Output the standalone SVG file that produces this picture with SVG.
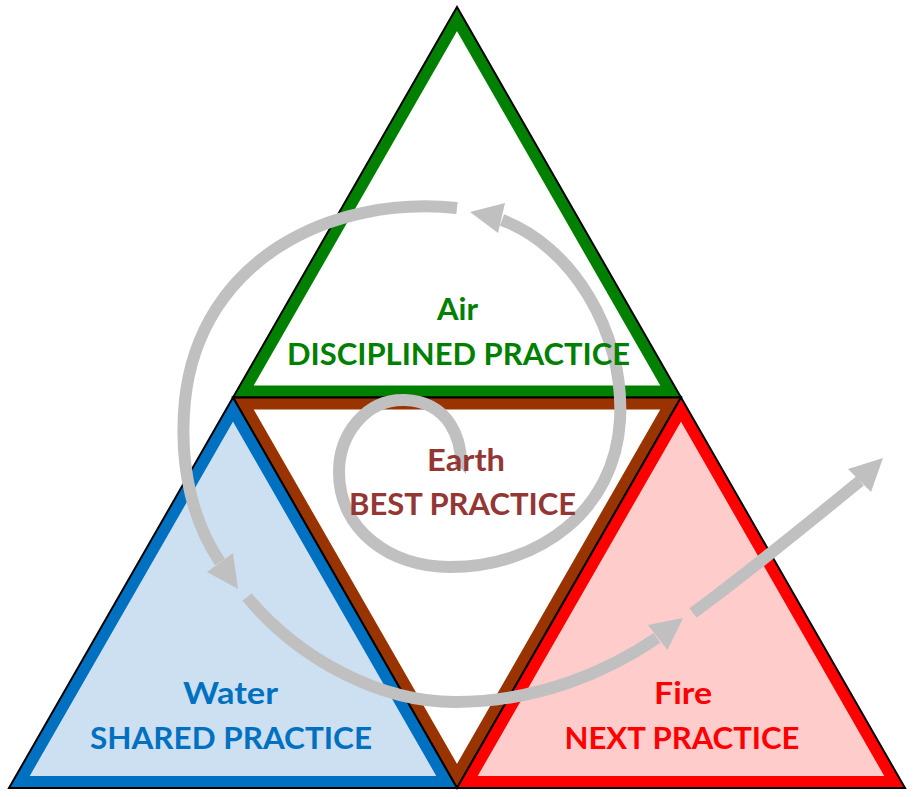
<svg xmlns="http://www.w3.org/2000/svg" width="914" height="797" viewBox="0 0 914 797">
<style>
.edge{fill:none;stroke:#000;stroke-width:2;stroke-linejoin:miter}
.band{stroke-width:24;stroke-linejoin:miter}
.sp{fill:none;stroke:#C0C0C0;stroke-width:12;stroke-linecap:butt}
.ah{fill:#C0C0C0;stroke:none}
.t{font-family:Lato,"Open Sans","Liberation Sans",sans-serif;font-weight:bold;font-size:31px;text-anchor:middle}
</style>
<defs>
<clipPath id="cAir"><polygon points="457,7 233,397.5 681,397.5"/></clipPath>
<clipPath id="cEarth"><polygon points="233,397.5 681,397.5 457,788"/></clipPath>
<clipPath id="cWater"><polygon points="233,397.5 9,788 457,788"/></clipPath>
<clipPath id="cFire"><polygon points="681,397.5 457,788 905,788"/></clipPath>
</defs>
<rect width="914" height="797" fill="#fff"/>
<g id="air">
<polygon class="band" points="457,7 233,397.5 681,397.5" fill="#fff" stroke="#008000" clip-path="url(#cAir)"/>
<polygon class="edge" points="457,7 233,397.5 681,397.5"/>
</g>
<g id="earth">
<polygon class="band" points="233,397.5 681,397.5 457,788" fill="#fff" stroke="#993300" clip-path="url(#cEarth)"/>
<polygon class="edge" points="233,397.5 681,397.5 457,788"/>
</g>
<g id="water">
<polygon class="band" points="233,397.5 9,788 457,788" fill="#CCE0F2" stroke="#0070C0" clip-path="url(#cWater)"/>
<polygon class="edge" points="233,397.5 9,788 457,788"/>
</g>
<g id="fire">
<polygon class="band" points="681,397.5 457,788 905,788" fill="#FFCCCC" stroke="#FF0000" clip-path="url(#cFire)"/>
<polygon class="edge" points="681,397.5 457,788 905,788"/>
</g>
<g id="connectors">
<path class="sp" d="M461,467 C462,440 450,402 405,400 C365,399 339,435 339,472 C339,530 390,567 450,567 C540,567 615,510 620,420 C625,330 570,245 502,220"/>
<polygon class="ah" points="455,462 467,462 466,474"/>
<polygon class="ah" points="470,212 505,203 498,233"/>
<path class="sp" d="M457,208 C330,195 200,260 185,400 C178,470 195,525 220,562"/>
<polygon class="ah" points="238,589 207,572 233,553"/>
<path class="sp" d="M247,597 C300,660 380,702 455,702 C540,702 610,670 657,638"/>
<polygon class="ah" points="683,618 667.5,650 648,625"/>
<path class="sp" d="M693,613 C745,575 800,530 860,481"/>
<polygon class="ah" points="883,458 848,469 871,492"/>
</g>
<g id="labels">
<text class="t" x="457.5" y="320" fill="#008000" textLength="41" lengthAdjust="spacingAndGlyphs">Air</text>
<text class="t" x="458.5" y="365" fill="#008000" textLength="343" lengthAdjust="spacingAndGlyphs">DISCIPLINED PRACTICE</text>
<text class="t" x="466" y="471" fill="#943634" textLength="78" lengthAdjust="spacingAndGlyphs">Earth</text>
<text class="t" x="462.5" y="515" fill="#943634" textLength="227" lengthAdjust="spacingAndGlyphs">BEST PRACTICE</text>
<text class="t" x="230.5" y="704" fill="#0070C0" textLength="95" lengthAdjust="spacingAndGlyphs">Water</text>
<text class="t" x="231" y="749" fill="#0070C0" textLength="282" lengthAdjust="spacingAndGlyphs">SHARED PRACTICE</text>
<text class="t" x="683" y="704" fill="#FF0000" textLength="58" lengthAdjust="spacingAndGlyphs">Fire</text>
<text class="t" x="682" y="749" fill="#FF0000" textLength="235" lengthAdjust="spacingAndGlyphs">NEXT PRACTICE</text>
</g>
</svg>
